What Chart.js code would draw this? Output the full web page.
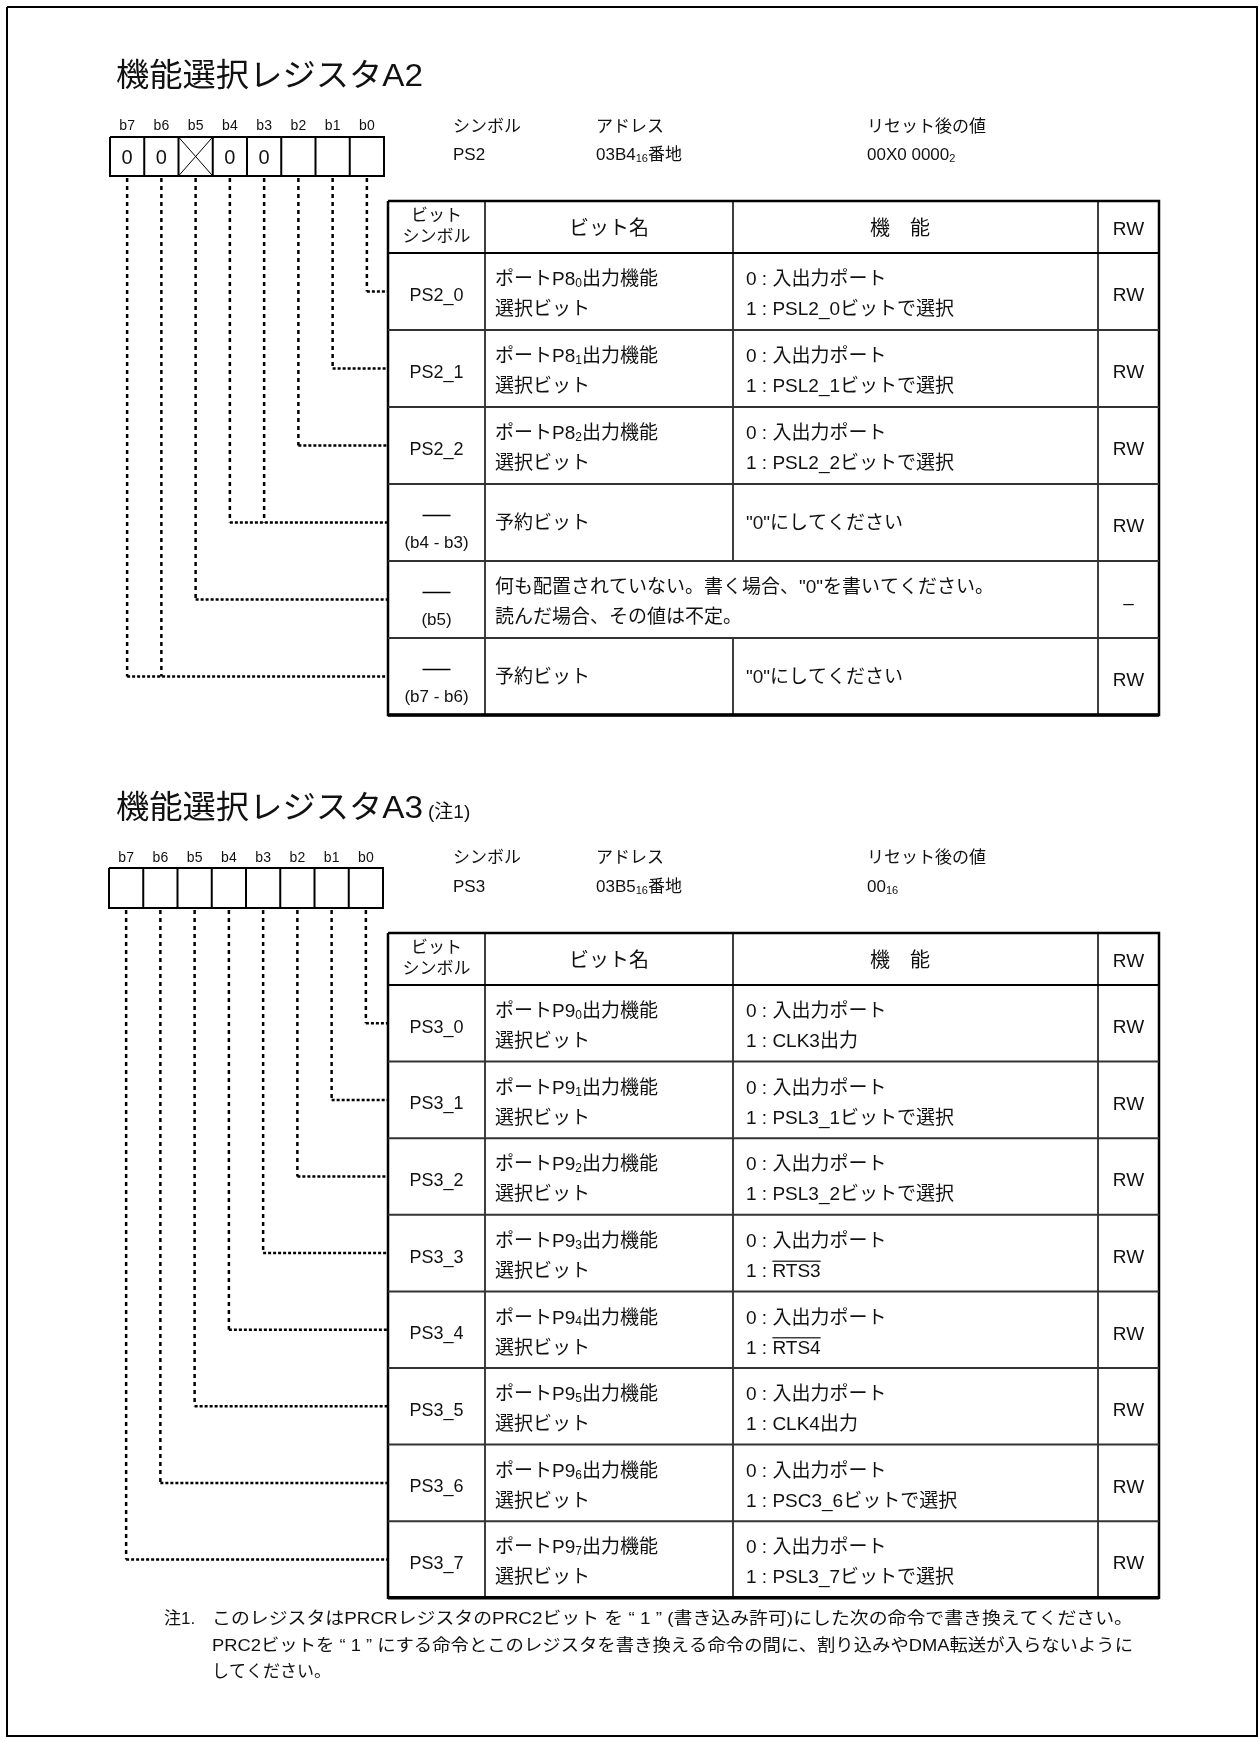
<!DOCTYPE html>
<html><head><meta charset="utf-8">
<script src="https://cdn.jsdelivr.net/npm/chart.js@4"></script>
<style>html,body{margin:0;padding:0;background:#fff}canvas{display:block}</style>
</head><body><canvas id="c" width="1259" height="1738"></canvas>
<script>
// ---------- DATA ----------
const bitLabels = ['b7','b6','b5','b4','b3','b2','b1','b0'];
const infoLabels = ['シンボル','アドレス','リセット後の値'];
const headerLabels = ['ビット','シンボル','ビット名','機　能','RW'];

const a2Title = '機能選択レジスタA2';
const a2TitleNote = '';
const a2Info = ['PS2','03B4_{16}番地','00X0 0000_{2}'];
const a2BitValues = ['0','0','X','0','0','','',''];
const a2Symbols = ['PS2_0','PS2_1','PS2_2','——','——','——'];
const a2SymbolNotes = ['','','','(b4 - b3)','(b5)','(b7 - b6)'];
const a2Names = [
  ['ポートP8_{0}出力機能','選択ビット'],
  ['ポートP8_{1}出力機能','選択ビット'],
  ['ポートP8_{2}出力機能','選択ビット'],
  ['予約ビット'],
  ['何も配置されていない。書く場合、"0"を書いてください。','読んだ場合、その値は不定。'],
  ['予約ビット']
];
const a2Functions = [
  ['0 : 入出力ポート','1 : PSL2_0ビットで選択'],
  ['0 : 入出力ポート','1 : PSL2_1ビットで選択'],
  ['0 : 入出力ポート','1 : PSL2_2ビットで選択'],
  ['"0"にしてください'],
  [],
  ['"0"にしてください']
];
const a2Merged = [false,false,false,false,true,false];
const a2Access = ['RW','RW','RW','RW','–','RW'];
const a2RowBits = [[0],[1],[2],[4,3],[5],[7,6]];

const a3Title = '機能選択レジスタA3';
const a3TitleNote = '(注1)';
const a3Info = ['PS3','03B5_{16}番地','00_{16}'];
const a3BitValues = ['','','','','','','',''];
const a3Symbols = ['PS3_0','PS3_1','PS3_2','PS3_3','PS3_4','PS3_5','PS3_6','PS3_7'];
const a3SymbolNotes = ['','','','','','','',''];
const a3Names = [
  ['ポートP9_{0}出力機能','選択ビット'],
  ['ポートP9_{1}出力機能','選択ビット'],
  ['ポートP9_{2}出力機能','選択ビット'],
  ['ポートP9_{3}出力機能','選択ビット'],
  ['ポートP9_{4}出力機能','選択ビット'],
  ['ポートP9_{5}出力機能','選択ビット'],
  ['ポートP9_{6}出力機能','選択ビット'],
  ['ポートP9_{7}出力機能','選択ビット']
];
const a3Functions = [
  ['0 : 入出力ポート','1 : CLK3出力'],
  ['0 : 入出力ポート','1 : PSL3_1ビットで選択'],
  ['0 : 入出力ポート','1 : PSL3_2ビットで選択'],
  ['0 : 入出力ポート','1 : ~{RTS3}'],
  ['0 : 入出力ポート','1 : ~{RTS4}'],
  ['0 : 入出力ポート','1 : CLK4出力'],
  ['0 : 入出力ポート','1 : PSC3_6ビットで選択'],
  ['0 : 入出力ポート','1 : PSL3_7ビットで選択']
];
const a3Merged = [false,false,false,false,false,false,false,false];
const a3Access = ['RW','RW','RW','RW','RW','RW','RW','RW'];
const a3RowBits = [[0],[1],[2],[3],[4],[5],[6],[7]];

const noteMark = '注1.';
const noteLines = [
  'このレジスタはPRCRレジスタのPRC2ビット を “ 1 ” (書き込み許可)にした次の命令で書き換えてください。',
  'PRC2ビットを “ 1 ” にする命令とこのレジスタを書き換える命令の間に、割り込みやDMA転送が入らないように',
  'してください。'
];

// ---------- LAYOUT (positions / sizes / styles) ----------
const L = {
  W:1259, H:1738,
  frame:[7,7,1257,1736],
  titleX:116, titleW:307, titleNoteX:428,
  cellW:34.25,
  cols:[388,485,733,1098,1159],
  infoX:[453,596,867],
  funcHeaderX:900,
  bodySize:19,
  noteY:[1618,1645,1671], noteX0:164, noteX1:212, noteW:921,
  regs:[
    {titleY:74, bitLabelY:125, infoY1:126, infoY2:154, boxLeft:110, boxTop:137, boxBottom:176, tableTop:201, headerH:52, rowH:77},
    {titleY:806, bitLabelY:857, infoY1:857, infoY2:886, boxLeft:109, boxTop:868, boxBottom:908, tableTop:933, headerH:52, rowH:76.6}
  ]
};
const FONT = '"Liberation Sans", "Noto Sans CJK JP", sans-serif';

// ---------- BUILD ----------
const datasets = [];
const texts = [];
function seg(pts, w, dash, color){
  datasets.push({data: pts.map(p=>({x:p[0], y:p[1]})), showLine:true, borderColor:color||'#000',
    borderWidth:w, borderDash:dash||[], pointRadius:0, pointHoverRadius:0, fill:false, tension:0});
}
function txt(s,x,y,size,align,fit){ texts.push({s,x,y,size,align:align||'left',fit}); }

function buildRegister(g, d){
  const bs = L.bodySize;
  txt(d.title, L.titleX, g.titleY, 32, 'left', L.titleW);
  if (d.titleNote) txt(d.titleNote, L.titleNoteX, g.titleY+5, 19, 'left');
  // bit box
  const bl = g.boxLeft, cw = L.cellW, bt = g.boxTop, bb = g.boxBottom, br = bl + 8*cw;
  for (let i=0;i<8;i++){
    const x0 = bl + i*cw, x1 = x0 + cw, cx = x0 + cw/2;
    txt(bitLabels[i], cx, g.bitLabelY, 14, 'center');
    const v = d.bitValues[i];
    if (v === 'X'){ seg([[x0,bt],[x1,bb]],1); seg([[x0,bb],[x1,bt]],1); }
    else if (v) txt(v, cx, (bt+bb)/2, 20, 'center');
    if (i>0) seg([[x0,bt],[x0,bb]],2);
  }
  seg([[bl,bt],[br,bt],[br,bb],[bl,bb],[bl,bt]],2);
  // info
  infoLabels.forEach((s,i)=>{ txt(s, L.infoX[i], g.infoY1, 17); txt(d.info[i], L.infoX[i], g.infoY2, 17); });
  // table
  const c = L.cols, top = g.tableTop, hb = top + g.headerH, n = d.symbols.length, rh = g.rowH, bottom = hb + n*rh;
  txt(headerLabels[0], (c[0]+c[1])/2, top+14, 17, 'center');
  txt(headerLabels[1], (c[0]+c[1])/2, top+35, 17, 'center');
  txt(headerLabels[2], (c[1]+c[2])/2, top+27, 20, 'center');
  txt(headerLabels[3], L.funcHeaderX, top+27, 20, 'center');
  txt(headerLabels[4], (c[3]+c[4])/2, top+27, 19, 'center');
  seg([[c[0],hb],[c[4],hb]],2);
  for (let r=1;r<n;r++){ const y = hb + r*rh; seg([[c[0],y],[c[4],y]],2,null,'#333'); }
  seg([[c[1],top],[c[1],bottom]],1.5);
  seg([[c[3],top],[c[3],bottom]],1.5);
  let start = top;
  for (let r=0;r<n;r++){ if (d.merged[r]){ seg([[c[2],start],[c[2],hb+r*rh]],1.5); start = hb+(r+1)*rh; } }
  seg([[c[2],start],[c[2],bottom]],1.5);
  seg([[c[0],top],[c[4],top],[c[4],bottom],[c[0],bottom],[c[0],top]],2.5);
  seg([[c[0],bottom],[c[4],bottom]],3.5);
  // rows
  for (let r=0;r<n;r++){
    const C = hb + r*rh + rh/2, sx = (c[0]+c[1])/2;
    if (d.symbols[r] === '——'){ seg([[sx-14,C-7],[sx+14,C-7]],1.5); }
    else txt(d.symbols[r], sx, C+3, 18, 'center');
    if (d.symbolNotes[r]) txt(d.symbolNotes[r], sx, C+19, 17, 'center');
    const nm = d.names[r];
    if (nm.length === 1) txt(nm[0], c[1]+10, C, bs);
    else { txt(nm[0], c[1]+10, C-13, bs); txt(nm[1], c[1]+10, C+17, bs); }
    const fn = d.functions[r];
    if (fn.length === 1) txt(fn[0], c[2]+13, C, bs);
    else if (fn.length === 2){ txt(fn[0], c[2]+13, C-13, bs); txt(fn[1], c[2]+13, C+17, bs); }
    txt(d.access[r], (c[3]+c[4])/2, C+3, 19, 'center');
    // connectors
    const bits = d.rowBits[r];
    let minX = Infinity;
    bits.forEach(b=>{
      const x = bl + (7-b+0.5)*cw;
      minX = Math.min(minX, x);
      seg([[x,bb+2],[x,C]],2.5,[4,4]);
    });
    seg([[minX,C],[c[0],C]],2.5,[3,2]);
  }
}

buildRegister(L.regs[0], {title:a2Title, titleNote:a2TitleNote, info:a2Info, bitValues:a2BitValues, symbols:a2Symbols,
  symbolNotes:a2SymbolNotes, names:a2Names, functions:a2Functions, merged:a2Merged, access:a2Access, rowBits:a2RowBits});
buildRegister(L.regs[1], {title:a3Title, titleNote:a3TitleNote, info:a3Info, bitValues:a3BitValues, symbols:a3Symbols,
  symbolNotes:a3SymbolNotes, names:a3Names, functions:a3Functions, merged:a3Merged, access:a3Access, rowBits:a3RowBits});

txt(noteMark, L.noteX0, L.noteY[0], 17);
noteLines.forEach((s,i)=> txt(s, L.noteX1, L.noteY[i], 17, 'left', i<2 ? L.noteW : null));

const f = L.frame;
seg([[f[0],f[1]],[f[2],f[1]],[f[2],f[3]],[f[0],f[3]],[f[0],f[1]]],2);

// ---------- RICH TEXT ----------
function parseRich(s){
  const out=[]; const re=/(_|~)\{([^}]*)\}/g; let last=0, m;
  while ((m = re.exec(s))){ if (m.index>last) out.push({t:s.slice(last,m.index),k:''}); out.push({t:m[2],k:m[1]}); last = re.lastIndex; }
  if (last < s.length) out.push({t:s.slice(last),k:''});
  return out;
}
function drawRich(ctx, s, x, y, size, align, fit){
  const parts = parseRich(s);
  const fontFor = k => (k==='_' ? Math.round(size*0.62) : size) + 'px ' + FONT;
  let w = 0;
  parts.forEach(p=>{ ctx.font = fontFor(p.k); p.w = ctx.measureText(p.t).width; w += p.w; });
  const sc = fit ? fit / w : 1;
  const tw = w * sc;
  let x0 = align==='center' ? x - tw/2 : align==='right' ? x - tw : x;
  const base = y + size*0.36;
  ctx.save();
  ctx.translate(x0, base); ctx.scale(sc, 1);
  ctx.textAlign = 'left'; ctx.textBaseline = 'alphabetic';
  let cx = 0;
  parts.forEach(p=>{
    ctx.font = fontFor(p.k);
    const dy = p.k==='_' ? size*0.1 : 0;
    ctx.fillText(p.t, cx, dy);
    if (p.k==='~'){ ctx.fillRect(cx, -size*0.86, p.w, 1.2); }
    cx += p.w;
  });
  ctx.restore();
}

const textPlugin = {
  id:'registerTexts',
  beforeDraw(chart){ const ctx = chart.ctx; ctx.save(); ctx.fillStyle='#fff'; ctx.fillRect(0,0,chart.width,chart.height); ctx.restore(); },
  afterDatasetsDraw(chart){
    const ctx = chart.ctx, sx = chart.scales.x, sy = chart.scales.y;
    ctx.save(); ctx.fillStyle = '#111';
    texts.forEach(t => drawRich(ctx, t.s, sx.getPixelForValue(t.x), sy.getPixelForValue(t.y), t.size, t.align, t.fit));
    ctx.restore();
  }
};

new Chart(document.getElementById('c'), {
  type:'scatter',
  data:{ datasets },
  options:{
    responsive:false, devicePixelRatio:1, animation:false,
    layout:{ padding:0 },
    plugins:{ legend:{display:false}, tooltip:{enabled:false} },
    events:[],
    scales:{
      x:{ type:'linear', min:0, max:L.W, display:false },
      y:{ type:'linear', min:0, max:L.H, reverse:true, display:false }
    }
  },
  plugins:[textPlugin]
});
</script>
</body></html>
